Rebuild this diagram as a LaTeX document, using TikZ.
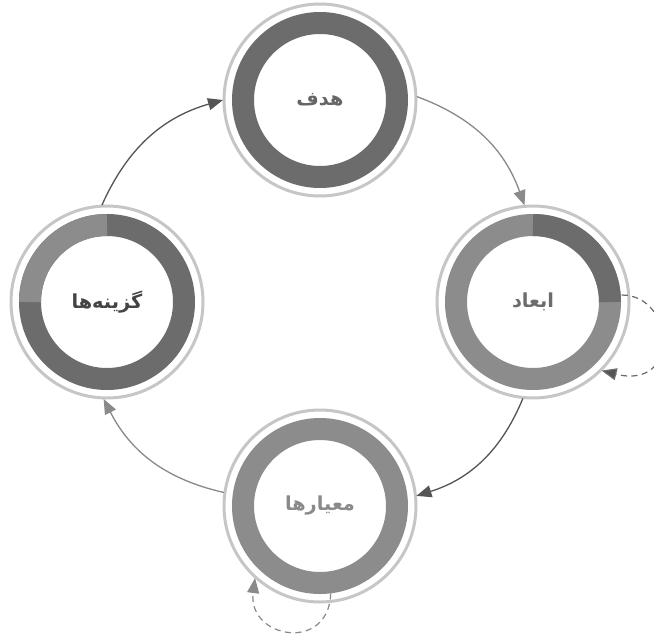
\documentclass[tikz,border=0pt]{standalone}
\usepackage{fontspec}
\usetikzlibrary{arrows.meta}
\TeXXeTstate=1
\newfontfamily\fafont[Script=Arabic]{DejaVu Sans}

\definecolor{ringdark}{HTML}{6C6C6C}
\definecolor{ringmid}{HTML}{8C8C8C}
\definecolor{ringlight}{HTML}{C6C6C6}
\definecolor{linkdark}{HTML}{555555}
\definecolor{linkmid}{HTML}{8A8A8A}

\tikzset{
  stage/.style={circle,draw=#1,line width=0.44cm,minimum size=3.08cm,inner sep=0pt,
    outer sep=0.4cm,fill=white,font=\fafont\bfseries\fontsize{11}{13}\selectfont},
  halo/.style={draw=ringlight,line width=0.06cm},
  seg/.style={draw=#1,line width=0.44cm},
  link/.style={draw=#1,line width=0.75pt,-{Triangle[length=0.3cm,width=0.24cm]}},
  selfloop/.style={draw=#1,line width=0.7pt,dash pattern=on 3.5pt off 2.5pt,
    -{Triangle[length=0.3cm,width=0.24cm,fill=linkdark]}}
}

\begin{document}
\begin{tikzpicture}

      \useasboundingbox (0,0) rectangle (13.08,12.72);

      \node[stage=ringdark,text=linkdark!90]  (1) at (6.4,10.72) {\beginR هدف\endR};
      \node[stage=ringmid,text=ringdark]      (2) at (10.66,6.68) {\beginR ابعاد\endR};
      \node[stage=ringmid,text=linkmid]       (3) at (6.4,2.6)   {\beginR معیارها\endR};
      \node[stage=ringdark,text=linkdark!80!black] (4) at (2.14,6.68) {\beginR گزینه‌ها\endR};

      % outer light rings
      \foreach \n in {1,2,3,4}
        \draw[halo] (\n.center) circle[radius=1.92];

      % ring parts
      \draw[seg=ringdark] ([shift={(0:1.54)}]2.center) arc[start angle=0,end angle=90,radius=1.54];
      \draw[seg=ringmid] ([shift={(90:1.54)}]4.center) arc[start angle=90,end angle=180,radius=1.54];

      % cycle
      \path (4.93)  edge[link=linkdark,bend left=25] (1.180);
      \path (1.2)   edge[link=linkmid,bend left=25]  (2.95);
      \path (2.264) edge[link=linkdark,bend left=25] (3.6);
      \path (3.172) edge[link=linkmid,bend left=25]  (4.268);

      % self loops
      \draw[selfloop=ringdark] ([shift={(4.5:1.78)}]2.center)
        .. controls +(1.06,0) and +(1.6,-0.4) .. (2.-45);
      \draw[selfloop=linkmid,-{Triangle[length=0.3cm,width=0.24cm,fill=linkmid]}] ([shift={(-83:1.76)}]3.center)
        .. controls +(-0.04,-1.2) and +(-0.16,-1.2) .. (3.-132);

\end{tikzpicture}
\end{document}
